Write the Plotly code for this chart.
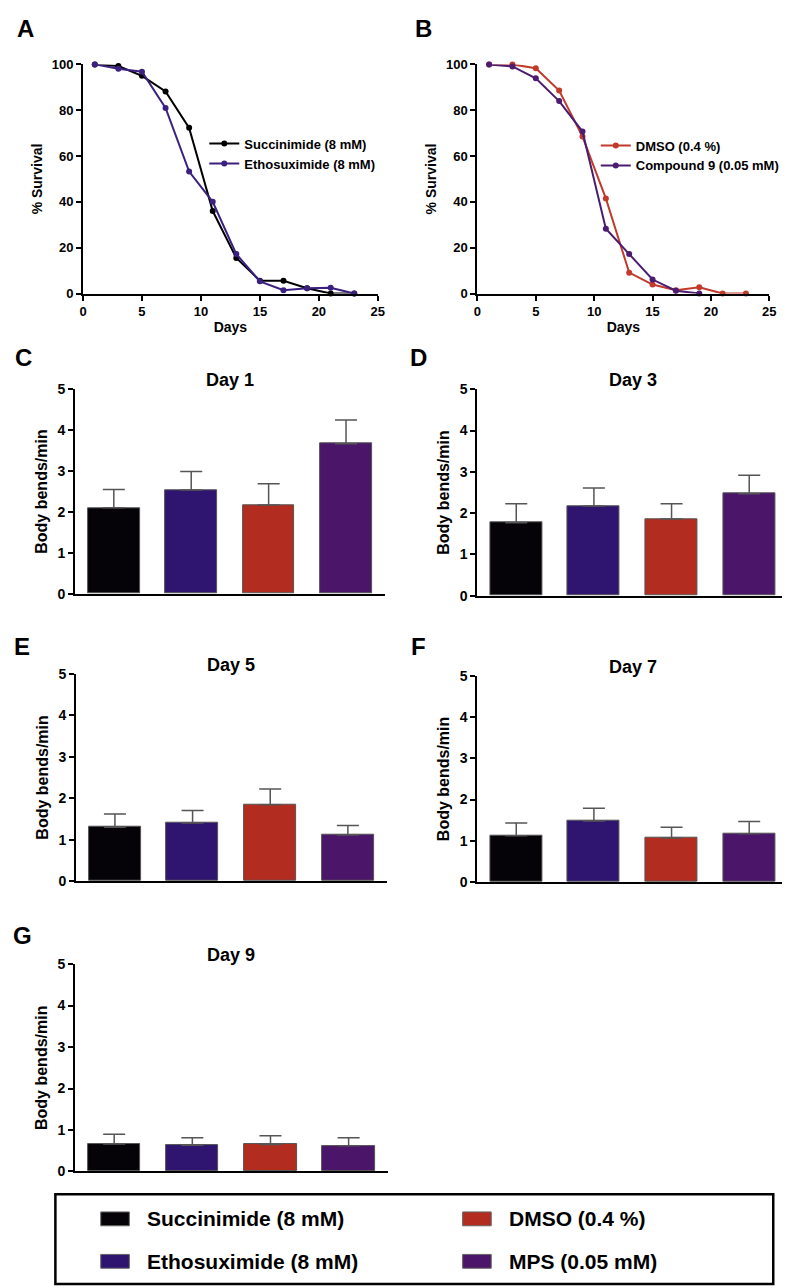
import plotly.graph_objects as go

W, H = 790, 1288

# survival curves (% alive vs day)
days = [1, 3, 5, 7, 9, 11, 13, 15, 17, 19, 21, 23]
succ_surv = [100, 99.3, 95, 88.2, 72.3, 36, 15.5, 5.6, 5.6, 2.3, 0, 0]
etho_surv = [100, 98.1, 96.8, 81, 53.2, 40, 17.2, 5.3, 1.4, 2.3, 2.5, 0]
dmso_surv = [100, 100, 98.3, 88.6, 68.5, 41.5, 9.1, 3.9, 1.4, 2.7, 0, 0]
days_c9 = [1, 3, 5, 7, 9, 11, 13, 15, 17, 19]
c9_surv = [100, 99.1, 93.9, 84, 70.7, 28.3, 17.2, 6.1, 1.2, 0]

# body bends, mean and upper error
groups = ['Succinimide (8 mM)', 'Ethosuximide (8 mM)', 'DMSO (0.4 %)', 'MPS (0.05 mM)']
day1 = [2.10, 2.54, 2.17, 3.67]
day1_err = [0.45, 0.45, 0.52, 0.58]
day3 = [1.77, 2.17, 1.86, 2.47]
day3_err = [0.46, 0.44, 0.37, 0.45]
day5 = [1.30, 1.40, 1.84, 1.11]
day5_err = [0.32, 0.30, 0.38, 0.23]
day7 = [1.12, 1.48, 1.07, 1.17]
day7_err = [0.31, 0.31, 0.26, 0.30]
day9 = [0.66, 0.63, 0.65, 0.62]
day9_err = [0.24, 0.18, 0.21, 0.19]

bar_colors = ['#050308', '#2f1470', '#b22c1f', '#4b1569']

FONT = 'Liberation Sans, Arial, sans-serif'


def fx(px):
    return px / W


def fy(py):
    return 1 - py / H


fig = go.Figure()

# ---- survival panels ----
surv_lines = [
    (days, succ_surv, 'Succinimide (8 mM)', '#000000', 1, 'legend'),
    (days, etho_surv, 'Ethosuximide (8 mM)', '#3b2080', 1, 'legend'),
    (days, dmso_surv, 'DMSO (0.4 %)', '#c13a2b', 2, 'legend2'),
    (days_c9, c9_surv, 'Compound 9 (0.05 mM)', '#4b1c6f', 2, 'legend2'),
]
for x, y, name, col, ax, leg in surv_lines:
    sfx = '' if ax == 1 else str(ax)
    fig.add_trace(go.Scatter(
        x=x, y=y, name=name, mode='lines+markers',
        line=dict(color=col, width=2), marker=dict(color=col, size=6),
        xaxis='x' + sfx, yaxis='y' + sfx, legend=leg, cliponaxis=False))

# ---- bar panels ----
bar_sets = [(day1, day1_err, 'Day 1'), (day3, day3_err, 'Day 3'),
            (day5, day5_err, 'Day 5'), (day7, day7_err, 'Day 7'),
            (day9, day9_err, 'Day 9')]
for i, (vals, errs, title) in enumerate(bar_sets):
    n = i + 3
    fig.add_trace(go.Bar(
        x=[0, 1, 2, 3], y=vals, width=0.67,
        marker=dict(color=bar_colors, line=dict(color='#555555', width=1)),
        error_y=dict(type='data', array=errs, arrayminus=[0] * 4, symmetric=False,
                     color='#555555', thickness=1.5, width=11),
        showlegend=False, xaxis='x%d' % n, yaxis='y%d' % n))

tickf = dict(family=FONT, size=13, color='black', weight='bold')
titlef = dict(family=FONT, size=14, color='black', weight='bold')

layout = dict(
    width=W, height=H, margin=dict(l=0, r=0, t=0, b=0),
    plot_bgcolor='white', paper_bgcolor='white',
    font=dict(family=FONT, color='black'),
    bargap=0,
)

surv_dom = [(72, 371), (472, 768)]
for k, (x0, x1) in enumerate(surv_dom):
    sfx = '' if k == 0 else str(k + 1)
    layout['xaxis' + sfx] = dict(
        domain=[fx(x0), fx(x1)], range=[0, 25], tickvals=[0, 5, 10, 15, 20, 25],
        showline=True, linecolor='black', linewidth=2, ticks='outside', ticklen=5,
        tickwidth=2, tickcolor='black', showgrid=False, zeroline=False,
        tickfont=tickf, title=dict(text='Days', font=titlef, standoff=4),
        anchor='y' + sfx)
    layout['yaxis' + sfx] = dict(
        domain=[fy(281), fy(49)], range=[0, 100], tickvals=[0, 20, 40, 60, 80, 100],
        showline=True, linecolor='black', linewidth=2, ticks='outside', ticklen=5,
        tickwidth=2, tickcolor='black', showgrid=False, zeroline=False,
        tickfont=tickf, title=dict(text='% Survival', font=titlef, standoff=6),
        anchor='x' + sfx)

bar_dom = [((64, 378), (585, 378)), ((472, 787), (587, 378)),
           ((65, 380), (876, 666)), ((472, 787), (877, 668)),
           ((64, 381), (1170, 960))]
for i, ((x0, x1), (yb, yt)) in enumerate(bar_dom):
    n = i + 3
    layout['xaxis%d' % n] = dict(
        domain=[fx(x0), fx(x1)], range=[-0.5, 3.5], showline=True, linecolor='black',
        linewidth=2, showticklabels=False, ticks='', showgrid=False, zeroline=False,
        anchor='y%d' % n)
    layout['yaxis%d' % n] = dict(
        domain=[fy(yb), fy(yt)], range=[0, 5], tickvals=[0, 1, 2, 3, 4, 5],
        showline=True, linecolor='black', linewidth=2, ticks='outside', ticklen=5,
        tickwidth=2, tickcolor='black', showgrid=False, zeroline=False,
        tickfont=dict(family=FONT, size=14, color='black', weight='bold'),
        title=dict(text='Body bends/min',
                   font=dict(family=FONT, size=16, color='black', weight='bold'),
                   standoff=6),
        anchor='x%d' % n)

layout['legend'] = dict(x=fx(195), y=fy(114), xanchor='left', yanchor='top',
                        font=dict(family=FONT, size=13, color='black', weight='bold'),
                        bgcolor='rgba(0,0,0,0)', itemwidth=30, tracegroupgap=0)
layout['legend2'] = dict(x=fx(592), y=fy(116), xanchor='left', yanchor='top',
                         font=dict(family=FONT, size=13, color='black', weight='bold'),
                         bgcolor='rgba(0,0,0,0)', itemwidth=30, tracegroupgap=0)

fig.update_layout(**layout)

# panel letters
letters = [('A', 14, 13), ('B', 417, 13), ('C', 12, 346), ('D', 412, 346),
           ('E', 10, 638), ('F', 412, 638), ('G', 11, 931)]
for t, x, y in letters:
    fig.add_annotation(text=t, x=fx(x), y=fy(y), xref='paper', yref='paper',
                       showarrow=False, xanchor='center', yanchor='middle',
                       font=dict(family=FONT, size=24, color='black', weight='bold'))

# day titles
for (vals, errs, title), ((x0, x1), (yb, yt)) in zip(bar_sets, bar_dom):
    fig.add_annotation(text=title, x=fx((x0 + x1) / 2), y=fy(yt - 9), xref='paper',
                       yref='paper', showarrow=False, xanchor='center', yanchor='middle',
                       font=dict(family=FONT, size=18, color='black', weight='bold'))

# shared legend box
fig.add_shape(type='rect', xref='paper', yref='paper', x0=fx(44), x1=fx(772),
              y0=fy(1284), y1=fy(1193), line=dict(color='black', width=2.5))
leg_pos = [(90, 1218), (90, 1261), (457, 1218), (457, 1261)]
for name, col, (lx, ly) in zip(groups, bar_colors, leg_pos):
    fig.add_shape(type='rect', xref='paper', yref='paper', x0=fx(lx), x1=fx(lx + 29),
                  y0=fy(ly + 7), y1=fy(ly - 7), fillcolor=col,
                  line=dict(color='#666666', width=1))
    fig.add_annotation(text=name, x=fx(lx + 45), y=fy(ly), xref='paper', yref='paper',
                       showarrow=False, xanchor='left', yanchor='middle',
                       font=dict(family=FONT, size=21, color='black', weight='bold'))

fig.write_html("out.html")
